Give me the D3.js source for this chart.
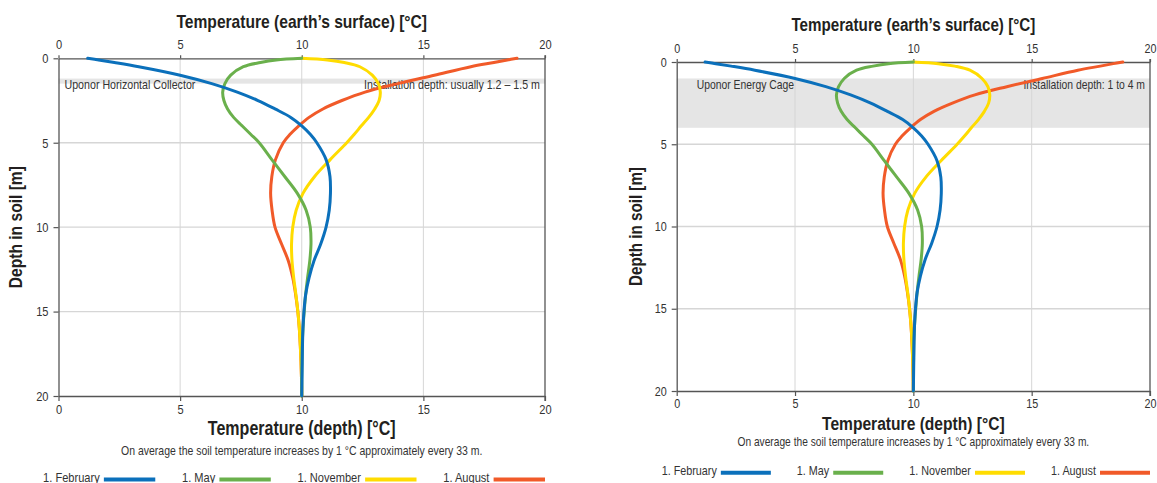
<!DOCTYPE html>
<html>
<head>
<meta charset="utf-8">
<script src="https://cdn.jsdelivr.net/npm/d3@7"></script>
<style>
  body { margin: 0; background: #fff; }
  svg { display: block; }
  text { font-family: "Liberation Sans Narrow", "Arial Narrow", "Liberation Sans", Arial, sans-serif; fill: #231f20; }
</style>
</head>
<body>
<svg id="chart" width="1157" height="483"></svg>
<script>
// Soil depth in metres
const depths = [0, 0.1, 0.25, 0.5, 1, 1.5, 2, 2.5, 3, 3.5, 4, 4.5, 5, 6, 7, 8, 9, 10, 11, 12, 13, 14, 15, 16, 17, 18, 19, 20];

// Soil temperature [°C] at each depth, by date
const tempFebruary = [1.2, 1.65, 2.3, 3.3, 5.0, 6.3, 7.35, 8.2, 8.9, 9.55, 10.0, 10.35, 10.62, 11.0, 11.16, 11.18, 11.13, 11.0, 10.78, 10.5, 10.3, 10.16, 10.09, 10.05, 10.03, 10.02, 10.01, 10.0];
const tempMay      = [10.0, 8.95, 8.3, 7.6, 7.08, 6.84, 6.75, 6.8, 6.95, 7.2, 7.55, 7.9, 8.25, 8.77, 9.3, 9.82, 10.18, 10.35, 10.38, 10.33, 10.24, 10.16, 10.1, 10.05, 10.02, 10.01, 10.0, 10.0];
const tempNovember = [10.0, 11.05, 11.75, 12.39, 12.9, 13.15, 13.23, 13.18, 13.0, 12.75, 12.45, 12.16, 11.85, 11.17, 10.53, 10.05, 9.77, 9.63, 9.58, 9.6, 9.67, 9.76, 9.84, 9.9, 9.94, 9.97, 9.99, 10.0];
const tempAugust   = [18.85, 18.45, 17.9, 16.95, 15.45, 13.95, 12.6, 11.65, 10.87, 10.3, 9.88, 9.52, 9.24, 8.92, 8.77, 8.72, 8.78, 8.9, 9.17, 9.45, 9.63, 9.75, 9.84, 9.9, 9.94, 9.97, 9.99, 10.0];

const seriesNames  = ["1. February", "1. May", "1. November", "1. August"];
const seriesValues = [tempFebruary, tempMay, tempNovember, tempAugust];
const seriesColors = ["#0b70bb", "#6ab04c", "#ffdc00", "#f15a29"];
// drawing order: February on top of the others
const drawOrder = [3, 2, 1, 0];

const tempTicks  = [0, 5, 10, 15, 20];
const depthTicks = [0, 5, 10, 15, 20];

// Installation zones
const collectorBand = [1.2, 1.5];
const cageBand      = [1, 4];

const topTitle    = "Temperature (earth’s surface) [°C]";
const bottomTitle = "Temperature (depth) [°C]";
const depthTitle  = "Depth in soil [m]";
const noteText    = "On average the soil temperature increases by 1 °C approximately every 33 m.";

// horizontal squeeze that gives the regular sans a condensed look
const SQ = 0.83;

const svg = d3.select("#chart");

// places a text at (x, y) squeezed horizontally around its anchor
function placeText(sel, x, y, extra = "") {
  return sel.attr("x", 0).attr("y", 0)
    .attr("transform", `translate(${x},${y}) ${extra} scale(${SQ},1)`);
}

function drawPanel(p) {
  const g = svg.append("g");
  const x = d3.scaleLinear().domain([0, 20]).range([p.x0, p.x1]);
  const y = d3.scaleLinear().domain([0, 20]).range([p.y0, p.y1]);
  const k = p.k;

  // installation band
  g.append("rect")
    .attr("x", x(0)).attr("width", x(20) - x(0))
    .attr("y", y(p.band[0])).attr("height", y(p.band[1]) - y(p.band[0]))
    .attr("fill", "#e5e5e5");

  // grid
  g.append("g").selectAll("line").data([5, 10, 15]).join("line")
    .attr("x1", d => x(d)).attr("x2", d => x(d))
    .attr("y1", y(0)).attr("y2", y(20))
    .attr("stroke", "#d6d6d6").attr("stroke-width", 1);
  g.append("g").selectAll("line").data([5, 10, 15]).join("line")
    .attr("x1", x(0)).attr("x2", x(20))
    .attr("y1", d => y(d)).attr("y2", d => y(d))
    .attr("stroke", "#d6d6d6").attr("stroke-width", 1.3);

  // band captions
  const bandTextY = y(p.band[0]) + 7;
  placeText(g.append("text"), x(0) + p.bandInset, bandTextY)
    .attr("dominant-baseline", "middle")
    .attr("font-size", 12.5 * k).style("fill", "#333")
    .text(p.bandLeft);
  placeText(g.append("text"), x(20) - 5, bandTextY)
    .attr("dominant-baseline", "middle").attr("text-anchor", "end")
    .attr("font-size", 12.5 * k).style("fill", "#333")
    .text(p.bandRight);

  // axes
  const styleAxis = sel => {
    sel.attr("font-family", null);
    sel.selectAll("path.domain").attr("stroke", "#555").attr("stroke-width", 1.3);
    sel.selectAll(".tick line").attr("stroke", "#555").attr("stroke-width", 1.2);
    sel.selectAll(".tick text").attr("font-size", 13 * k).style("fill", "#333");
  };
  const squeezeTicks = sel => {
    sel.selectAll(".tick text").each(function () {
      const t = d3.select(this);
      const tx = +t.attr("x") || 0, ty = +t.attr("y") || 0;
      placeText(t, tx, ty);
    });
  };
  g.append("g").attr("transform", `translate(0,${y(0)})`)
    .call(d3.axisTop(x).tickValues(tempTicks).tickSize(3).tickSizeOuter(0).tickPadding(6))
    .call(styleAxis).call(squeezeTicks);
  g.append("g").attr("transform", `translate(0,${y(20)})`)
    .call(d3.axisBottom(x).tickValues(tempTicks).tickSize(5).tickSizeOuter(0).tickPadding(3))
    .call(styleAxis).call(squeezeTicks);
  g.append("g").attr("transform", `translate(${x(0)},0)`)
    .call(d3.axisLeft(y).tickValues(depthTicks).tickSize(5).tickSizeOuter(0).tickPadding(5))
    .call(styleAxis).call(squeezeTicks);
  g.append("line")
    .attr("x1", x(20)).attr("x2", x(20)).attr("y1", y(0) - 3).attr("y2", y(20) + 5)
    .attr("stroke", "#555").attr("stroke-width", 1.3);

  // curves
  const line = d3.line()
    .x(d => x(d[1]))
    .y(d => y(d[0]))
    .curve(d3.curveCatmullRom.alpha(0.5));
  drawOrder.forEach(i => {
    g.append("path")
      .datum(depths.map((d, j) => [d, seriesValues[i][j]]))
      .attr("d", line)
      .attr("fill", "none")
      .attr("stroke", seriesColors[i])
      .attr("stroke-width", 3)
      .attr("stroke-linecap", "round");
  });

  const cx = (x(0) + x(20)) / 2;
  placeText(g.append("text"), cx, p.topTitleY)
    .attr("text-anchor", "middle").attr("dominant-baseline", "middle")
    .attr("font-size", 18.3 * k).attr("font-weight", "bold")
    .text(topTitle);
  placeText(g.append("text"), cx, p.bottomTitleY)
    .attr("text-anchor", "middle").attr("dominant-baseline", "middle")
    .attr("font-size", 18.8 * k).attr("font-weight", "bold")
    .text(bottomTitle);
  placeText(g.append("text"), cx, p.noteY)
    .attr("text-anchor", "middle").attr("dominant-baseline", "middle")
    .attr("font-size", 12.3 * k).style("fill", "#333")
    .text(noteText);
  placeText(g.append("text"), p.depthTitleX, (y(0) + y(20)) / 2, "rotate(-90)")
    .attr("text-anchor", "middle").attr("dominant-baseline", "middle")
    .attr("font-size", 18.3 * k).attr("font-weight", "bold")
    .text(depthTitle);

  // legend, right-aligned to the plot edge
  const lineLen = 50 * k, gapText = 4 * k, gapItem = 26 * k;
  const items = seriesNames.map((name, i) => {
    const t = g.append("text")
      .attr("dominant-baseline", "middle")
      .attr("font-size", 13 * k).style("fill", "#333")
      .text(name);
    return { t, w: t.node().getComputedTextLength() * SQ, i };
  });
  const total = items.reduce((s, it) => s + it.w + gapText + lineLen, 0) + gapItem * (items.length - 1);
  let cur = x(20) - total;
  items.forEach(it => {
    placeText(it.t, cur, p.legendY);
    cur += it.w + gapText;
    g.append("line")
      .attr("x1", cur).attr("x2", cur + lineLen)
      .attr("y1", p.legendY + 1).attr("y2", p.legendY + 1)
      .attr("stroke", seriesColors[it.i]).attr("stroke-width", 4);
    cur += lineLen + gapItem;
  });
}

drawPanel({
  x0: 58.5, x1: 545, y0: 58.3, y1: 396, k: 1.028,
  band: collectorBand, bandInset: 6,
  bandLeft: "Uponor Horizontal Collector",
  bandRight: "Installation depth: usually 1.2 – 1.5 m",
  topTitleY: 22.7, bottomTitleY: 430, noteY: 451.7, legendY: 478.5, depthTitleX: 17
});

drawPanel({
  x0: 676.7, x1: 1150, y0: 62, y1: 391, k: 1,
  band: cageBand, bandInset: 20,
  bandLeft: "Uponor Energy Cage",
  bandRight: "Installation depth: 1 to 4 m",
  topTitleY: 26, bottomTitleY: 425, noteY: 442.7, legendY: 471.7, depthTitleX: 637
});
</script>
</body>
</html>
